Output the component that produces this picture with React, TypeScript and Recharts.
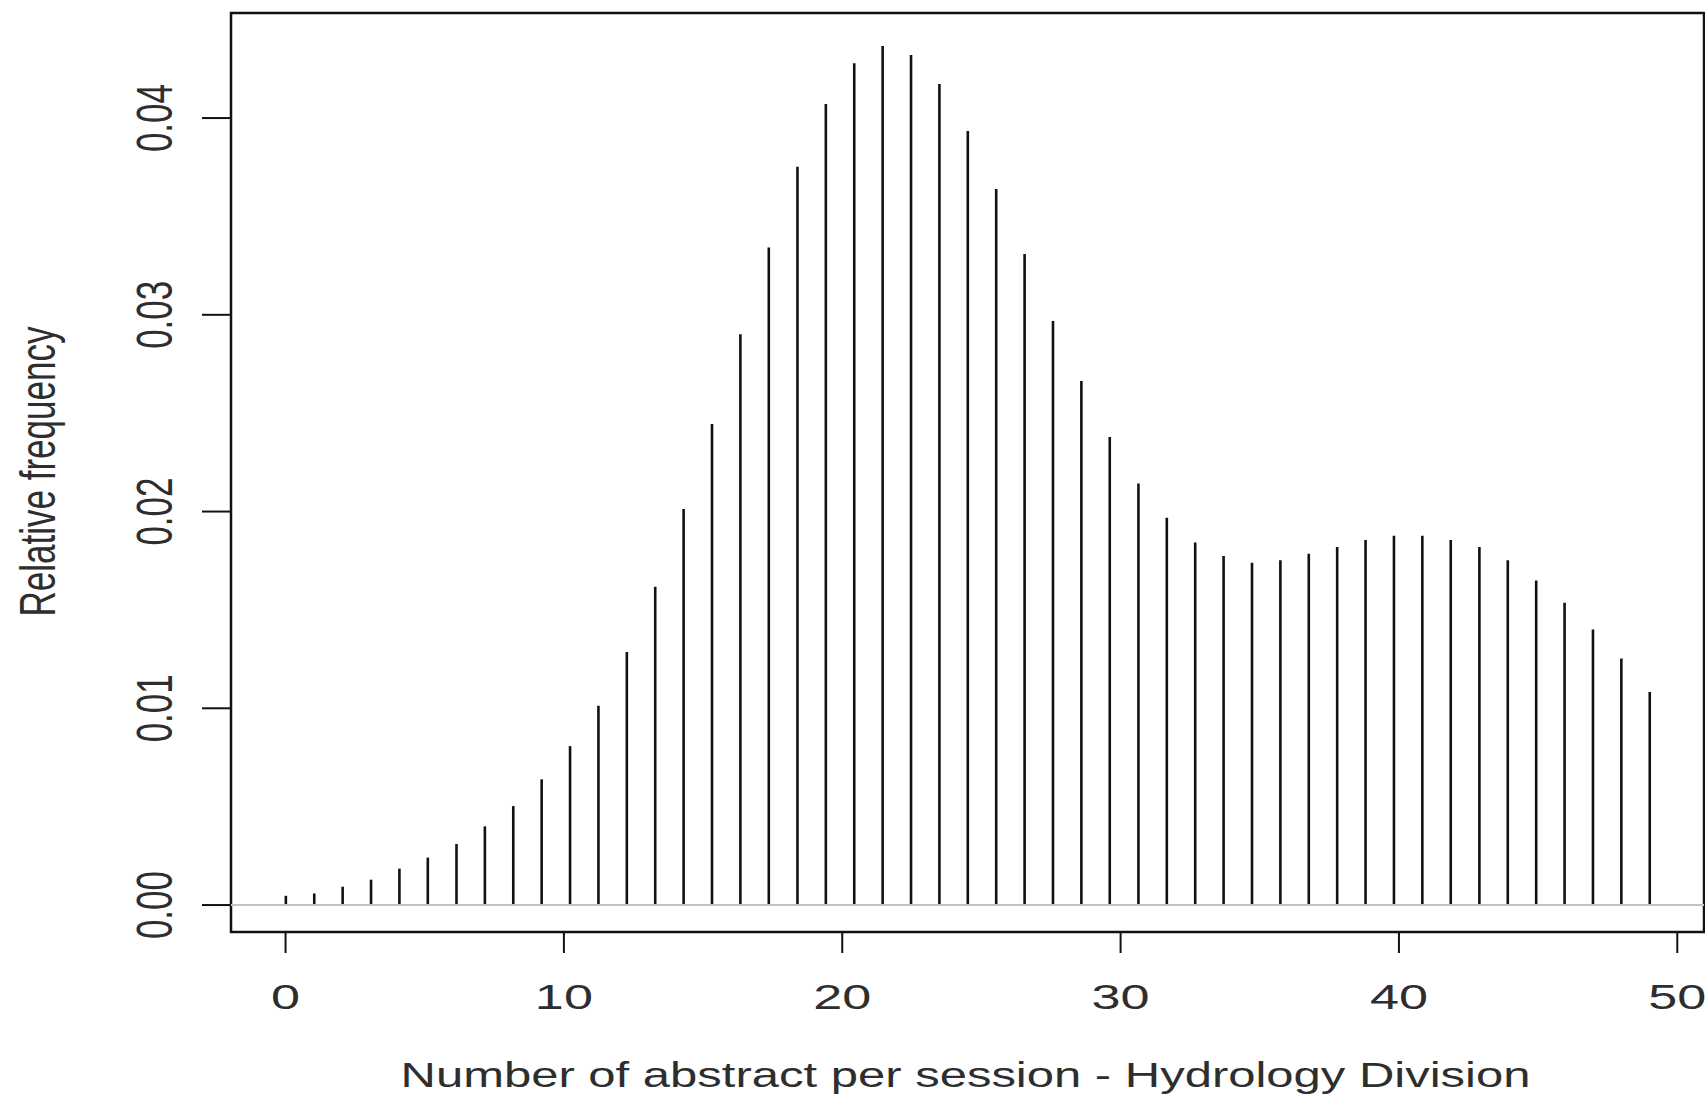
import React from 'react';
import { ComposedChart, Bar, XAxis, YAxis, ReferenceLine, ReferenceArea } from 'recharts';

// Bar positions (x) and relative frequencies
const positions = [
  0, 1.02, 2.04, 3.06, 4.08, 5.1, 6.13, 7.15, 8.17, 9.19,
  10.21, 11.23, 12.25, 13.27, 14.29, 15.31, 16.33, 17.35, 18.38, 19.4,
  20.42, 21.44, 22.46, 23.48, 24.5, 25.52, 26.54, 27.56, 28.58, 29.6,
  30.63, 31.65, 32.67, 33.69, 34.71, 35.73, 36.75, 37.77, 38.79, 39.81,
  40.83, 41.85, 42.88, 43.9, 44.92, 45.94, 46.96, 47.98, 49.0,
];
const frequencies = [
  0.00047, 0.00059, 0.00093, 0.00129, 0.00185, 0.00241, 0.0031, 0.004, 0.00503, 0.00639,
  0.00808, 0.01013, 0.01286, 0.01618, 0.02013, 0.02445, 0.02901, 0.03342, 0.03753, 0.04071,
  0.04278, 0.04366, 0.0432, 0.04173, 0.03934, 0.03639, 0.03309, 0.02968, 0.02663, 0.02379,
  0.02142, 0.01969, 0.01843, 0.01774, 0.0174, 0.01753, 0.01786, 0.0182, 0.01855, 0.01877,
  0.01877, 0.01855, 0.0182, 0.01753, 0.0165, 0.01537, 0.014, 0.01253, 0.01083,
];
const xTicks = [0, 10, 20, 30, 40, 50];
const yTicks = [0, 0.01, 0.02, 0.03, 0.04];
const yTickLabels = ['0.00', '0.01', '0.02', '0.03', '0.04'];
const xTitle = 'Number of abstract per session - Hydrology Division';
const yTitle = 'Relative frequency';

const X_DOMAIN: [number, number] = [-1.96, 50.96];
const Y_DOMAIN: [number, number] = [-0.00137, 0.04534];

const data = positions.map((x, i) => ({ x, v: frequencies[i] }));

const FONT = '"Liberation Sans", Arial, Helvetica, sans-serif';
const SX = 1.45;
const TEXT_COLOR = '#2e2e2e';

const XTick = (props: any) => {
  const { x, y, payload } = props;
  return (
    <g transform={`translate(${x},${y + 56}) scale(${SX},1)`}>
      <text x={0} y={0} textAnchor="middle" fontSize={36} fontFamily={FONT} fill={TEXT_COLOR}>
        {String(payload.value)}
      </text>
    </g>
  );
};

const YTick = (props: any) => {
  const { x, y, payload } = props;
  const idx = yTicks.indexOf(payload.value);
  const label = idx >= 0 ? yTickLabels[idx] : String(payload.value);
  return (
    <g transform={`translate(${x - 30},${y}) scale(${SX},1) rotate(-90)`}>
      <text x={0} y={0} textAnchor="middle" fontSize={35} fontFamily={FONT} fill={TEXT_COLOR}>
        {label}
      </text>
    </g>
  );
};

const XTitle = (props: any) => {
  const vb = props.viewBox || { x: 231, y: 932, width: 1473, height: 163 };
  const cx = vb.x + vb.width / 2 - 2;
  return (
    <text
      x={cx}
      y={vb.y + 155}
      textAnchor="middle"
      fontSize={35}
      fontFamily={FONT}
      fill={TEXT_COLOR}
      textLength={1130}
      lengthAdjust="spacingAndGlyphs"
    >
      {xTitle}
    </text>
  );
};

const YTitle = (props: any) => {
  const vb = props.viewBox || { x: 0, y: 13, width: 231, height: 919 };
  const cy = vb.y + vb.height / 2 - 1;
  return (
    <g transform={`translate(${vb.x + 55},${cy}) scale(${SX},1) rotate(-90)`}>
      <text x={0} y={0} textAnchor="middle" fontSize={35} fontFamily={FONT} fill={TEXT_COLOR}>
        {yTitle}
      </text>
    </g>
  );
};

const StickShape = (props: any) => {
  const { x, y, width, height } = props;
  if (x == null || y == null || height == null) return null;
  const cx = x + width / 2;
  return <line x1={cx} x2={cx} y1={y} y2={y + height} stroke="#111" strokeWidth={2.6} />;
};

export default function App() {
  return (
    <div style={{ position: 'absolute', left: 0, top: 0, width: 1705, height: 1095, background: '#fff' }}>
      <ComposedChart
        width={1705}
        height={1095}
        data={data}
        margin={{ top: 13, right: 1, bottom: 0, left: 0 }}
        barCategoryGap={0}
      >
        <XAxis
          dataKey="x"
          type="number"
          domain={X_DOMAIN}
          ticks={xTicks}
          allowDataOverflow
          height={163}
          axisLine={false}
          tickSize={21}
          tickMargin={0}
          tickLine={{ stroke: '#111', strokeWidth: 2 }}
          tick={<XTick />}
          interval={0}
          label={{ content: <XTitle /> } as any}
        />
        <YAxis
          type="number"
          domain={Y_DOMAIN}
          ticks={yTicks}
          allowDataOverflow
          width={231}
          axisLine={false}
          tickSize={29}
          tickMargin={0}
          tickLine={{ stroke: '#111', strokeWidth: 2 }}
          tick={<YTick />}
          interval={0}
          label={{ content: <YTitle /> } as any}
        />
        <ReferenceLine y={0} stroke="#c4c4c4" strokeWidth={2} ifOverflow="extendDomain" />
        <Bar dataKey="v" barSize={3} shape={<StickShape />} isAnimationActive={false} />
        <ReferenceArea
          x1={X_DOMAIN[0]}
          x2={X_DOMAIN[1]}
          y1={Y_DOMAIN[0]}
          y2={Y_DOMAIN[1]}
          fill="none"
          fillOpacity={0}
          stroke="#111"
          strokeWidth={2.5}
        />
      </ComposedChart>
    </div>
  );
}
